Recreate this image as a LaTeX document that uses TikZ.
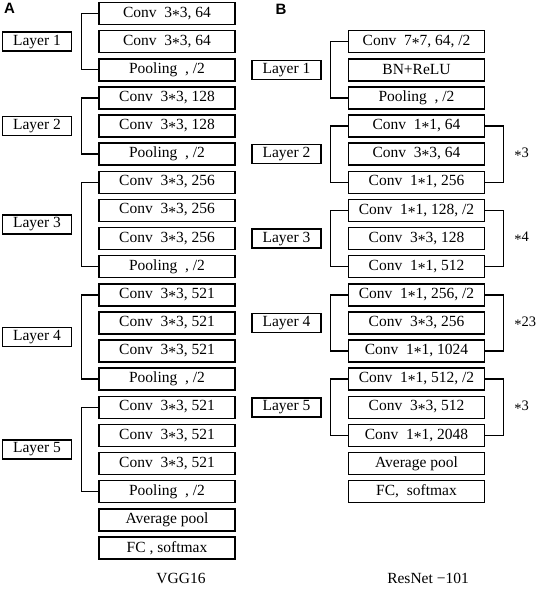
\documentclass[tikz,border=0pt]{standalone}
\usepackage{fontspec}
\setmainfont{Liberation Serif}
\newfontfamily\headfont{Liberation Sans}
\usetikzlibrary{positioning, calc}
\newcommand{\mul}{\raisebox{-0.2em}{*}}

\begin{document}
\begin{tikzpicture}[
  x=1pt, y=-1pt,
  node distance=4.63pt,
  font=\fontsize{15.5}{17}\selectfont,
  box/.style={rectangle, draw, line width=1.5pt, minimum width=136pt,
    minimum height=22pt, inner sep=1pt, align=center},
  layerbox/.style={rectangle, draw, line width=1.5pt, minimum width=69pt,
    minimum height=19pt, inner sep=1pt},
  brk/.style={line width=1.4pt},
  rep/.style={inner sep=0pt, font=\fontsize{14.5}{16}\selectfont},
  head/.style={font=\headfont\bfseries\fontsize{15}{16}\selectfont},
]
  \useasboundingbox (0,0) rectangle (536,590);

  % VGG16 column
  \node[box] (a1) at (167,13.5) {Conv~~3\mul3, 64};
  \node[box, below=of a1] (a2) {Conv~~3\mul3, 64};
  \node[box, below=of a2] (a3) {Pooling~~, /2};
  \node[box, below=of a3] (a4) {Conv~~3\mul3, 128};
  \node[box, below=of a4] (a5) {Conv~~3\mul3, 128};
  \node[box, below=of a5] (a6) {Pooling~~, /2};
  \node[box, below=of a6] (a7) {Conv~~3\mul3, 256};
  \node[box, below=of a7] (a8) {Conv~~3\mul3, 256};
  \node[box, below=of a8] (a9) {Conv~~3\mul3, 256};
  \node[box, below=of a9] (a10) {Pooling~~, /2};
  \node[box, below=of a10] (a11) {Conv~~3\mul3, 521};
  \node[box, below=of a11] (a12) {Conv~~3\mul3, 521};
  \node[box, below=of a12] (a13) {Conv~~3\mul3, 521};
  \node[box, below=of a13] (a14) {Pooling~~, /2};
  \node[box, below=of a14] (a15) {Conv~~3\mul3, 521};
  \node[box, below=of a15] (a16) {Conv~~3\mul3, 521};
  \node[box, below=of a16] (a17) {Conv~~3\mul3, 521};
  \node[box, below=of a17] (a18) {Pooling~~, /2};
  \node[box, below=of a18] (a19) {Average pool};
  \node[box, below=of a19] (a20) {FC , softmax};

  % ResNet column
  \node[box, right=112pt of a2] (b1) {Conv~~7\mul7, 64, /2};
  \node[box, below=of b1] (b2) {BN+ReLU};
  \node[box, below=of b2] (b3) {Pooling~~, /2};
  \node[box, below=of b3] (b4) {Conv~~1\mul1, 64};
  \node[box, below=of b4] (b5) {Conv~~3\mul3, 64};
  \node[box, below=of b5] (b6) {Conv~~1\mul1, 256};
  \node[box, below=of b6] (b7) {Conv~~1\mul1, 128, /2};
  \node[box, below=of b7] (b8) {Conv~~3\mul3, 128};
  \node[box, below=of b8] (b9) {Conv~~1\mul1, 512};
  \node[box, below=of b9] (b10) {Conv~~1\mul1, 256, /2};
  \node[box, below=of b10] (b11) {Conv~~3\mul3, 256};
  \node[box, below=of b11] (b12) {Conv~~1\mul1, 1024};
  \node[box, below=of b12] (b13) {Conv~~1\mul1, 512, /2};
  \node[box, below=of b13] (b14) {Conv~~3\mul3, 512};
  \node[box, below=of b14] (b15) {Conv~~1\mul1, 2048};
  \node[box, below=of b15] (b16) {Average pool};
  \node[box, below=of b16] (b17) {FC,~~softmax};

  % Brackets
  \draw[brk] (a1.west) -- ++(-17,0) |- (a3.west);
  \draw[brk] (a4.west) -- ++(-17,0) |- (a6.west);
  \draw[brk] (a7.west) -- ++(-17,0) |- (a10.west);
  \draw[brk] (a11.west) -- ++(-17,0) |- (a14.west);
  \draw[brk] (a15.west) -- ++(-17,0) |- (a18.west);
  \draw[brk] (b1.west) -- ++(-17,0) |- (b3.west);
  \draw[brk] (b4.west) -- ++(-17,0) |- (b6.west);
  \draw[brk] (b7.west) -- ++(-17,0) |- (b9.west);
  \draw[brk] (b10.west) -- ++(-17,0) |- (b12.west);
  \draw[brk] (b13.west) -- ++(-17,0) |- (b15.west);
  \draw[brk] (b4.east) -- ++(18,0) |- (b6.east);
  \draw[brk] (b7.east) -- ++(18,0) |- (b9.east);
  \draw[brk] (b10.east) -- ++(18,0) |- (b12.east);
  \draw[brk] (b13.east) -- ++(18,0) |- (b15.east);

  % Layer labels
  \node[layerbox, left=26pt] (la1) at ($(a1.west)!.5!(a3.west)$) {Layer 1};
  \node[layerbox, left=26pt] (la2) at ($(a4.west)!.5!(a6.west)$) {Layer 2};
  \node[layerbox, left=26pt] (la3) at ($(a7.west)!.5!(a10.west)$) {Layer 3};
  \node[layerbox, left=26pt] (la4) at ($(a11.west)!.5!(a14.west)$) {Layer 4};
  \node[layerbox, left=26pt] (la5) at ($(a15.west)!.5!(a18.west)$) {Layer 5};
  \node[layerbox, left=26pt] (lb1) at ($(b1.west)!.5!(b3.west)$) {Layer 1};
  \node[layerbox, left=26pt] (lb2) at ($(b4.west)!.5!(b6.west)$) {Layer 2};
  \node[layerbox, left=26pt] (lb3) at ($(b7.west)!.5!(b9.west)$) {Layer 3};
  \node[layerbox, left=26pt] (lb4) at ($(b10.west)!.5!(b12.west)$) {Layer 4};
  \node[layerbox, left=26pt] (lb5) at ($(b13.west)!.5!(b15.west)$) {Layer 5};

  % Repeats
  \node[rep, right=29pt] (r2) at ($(b4.east)!.5!(b6.east)$) {\mul3};
  \node[rep, right=29pt] (r3) at ($(b7.east)!.5!(b9.east)$) {\mul4};
  \node[rep, right=29pt] (r4) at ($(b10.east)!.5!(b12.east)$) {\mul23};
  \node[rep, right=29pt] (r5) at ($(b13.east)!.5!(b15.east)$) {\mul3};

  % Titles
  \node[head] (ha) at (9.5,8) {A};
  \node[head] (hb) at (281,9) {B};
  \node (vgg) at (181,578) {VGG16};
  \node (res) at (428,578) {ResNet −101};
\end{tikzpicture}
\end{document}
